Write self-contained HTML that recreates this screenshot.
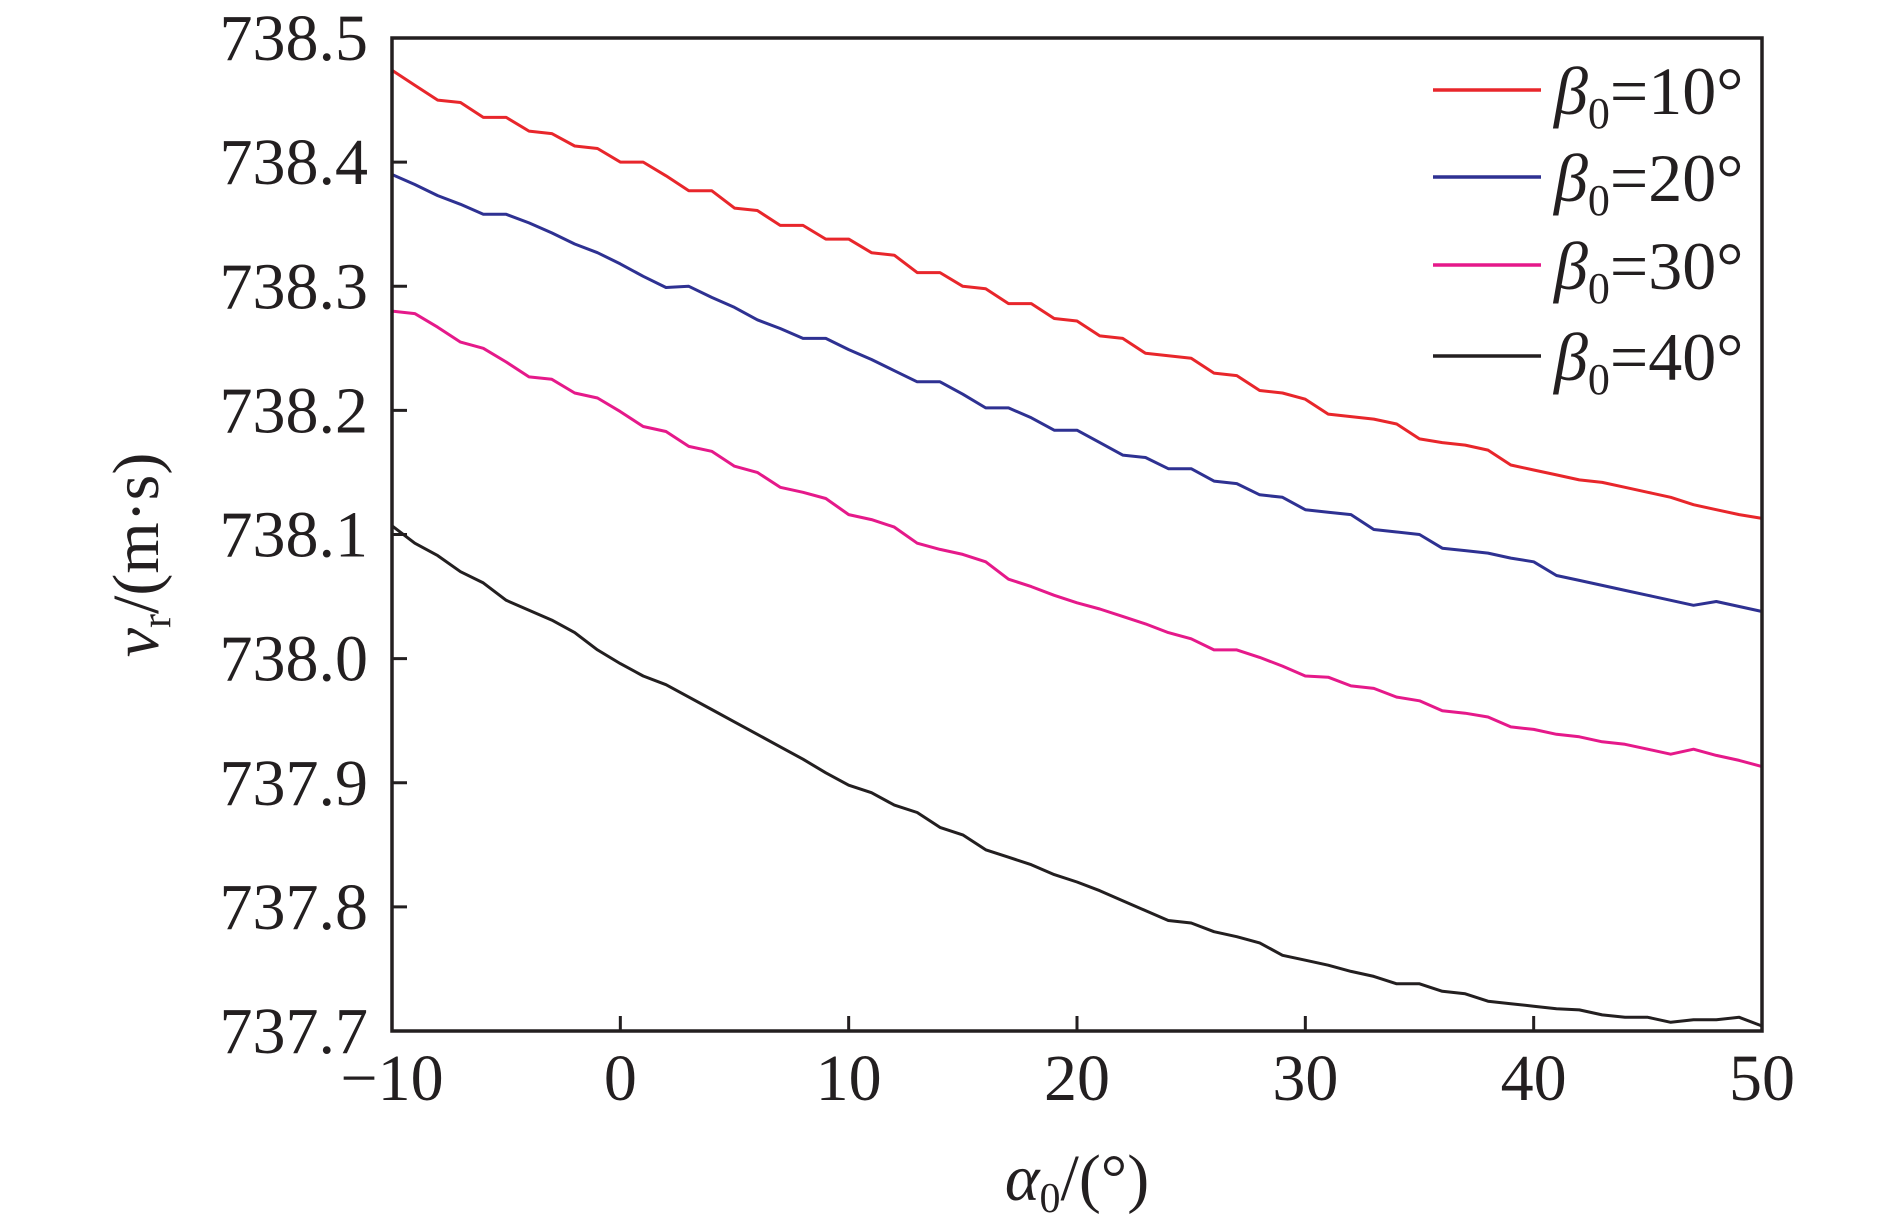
<!DOCTYPE html>
<html><head><meta charset="utf-8"><style>
html,body{margin:0;padding:0;background:#fff;}
svg{display:block;font-family:"Liberation Serif",serif;}
</style></head><body>
<svg id="chart" width="1890" height="1226" viewBox="0 0 1890 1226" xmlns="http://www.w3.org/2000/svg"></svg>
<script>
const xCats = [];
for (let i = -10; i <= 50; i++) xCats.push(i);
const xTicks = [-10, 0, 10, 20, 30, 40, 50];
const xTickLabels = ["\u221210", "0", "10", "20", "30", "40", "50"];
const yTicks = [737.7, 737.8, 737.9, 738.0, 738.1, 738.2, 738.3, 738.4, 738.5];
const yTickLabels = ["737.7", "737.8", "737.9", "738.0", "738.1", "738.2", "738.3", "738.4", "738.5"];
const seriesNames = ["10", "20", "30", "40"];
const b10 = [738.474,738.462,738.450,738.448,738.436,738.436,738.425,738.423,738.413,738.411,738.400,738.400,738.389,738.377,738.377,738.363,738.361,738.349,738.349,738.338,738.338,738.327,738.325,738.311,738.311,738.300,738.298,738.286,738.286,738.274,738.272,738.260,738.258,738.246,738.244,738.242,738.230,738.228,738.216,738.214,738.209,738.197,738.195,738.193,738.189,738.177,738.174,738.172,738.168,738.156,738.152,738.148,738.144,738.142,738.138,738.134,738.130,738.124,738.120,738.116,738.113];
const b20 = [738.390,738.382,738.373,738.366,738.358,738.358,738.351,738.343,738.334,738.327,738.318,738.308,738.299,738.300,738.291,738.283,738.273,738.266,738.258,738.258,738.249,738.241,738.232,738.223,738.223,738.213,738.202,738.202,738.194,738.184,738.184,738.174,738.164,738.162,738.153,738.153,738.143,738.141,738.132,738.130,738.120,738.118,738.116,738.104,738.102,738.100,738.089,738.087,738.085,738.081,738.078,738.067,738.063,738.059,738.055,738.051,738.047,738.043,738.046,738.042,738.038];
const b30 = [738.280,738.278,738.267,738.255,738.250,738.239,738.227,738.225,738.214,738.210,738.199,738.187,738.183,738.171,738.167,738.155,738.150,738.138,738.134,738.129,738.116,738.112,738.106,738.093,738.088,738.084,738.078,738.064,738.058,738.051,738.045,738.040,738.034,738.028,738.021,738.016,738.007,738.007,738.001,737.994,737.986,737.985,737.978,737.976,737.969,737.966,737.958,737.956,737.953,737.945,737.943,737.939,737.937,737.933,737.931,737.927,737.923,737.927,737.922,737.918,737.913];
const b40 = [738.107,738.093,738.083,738.070,738.061,738.047,738.039,738.031,738.021,738.007,737.996,737.986,737.979,737.969,737.959,737.949,737.939,737.929,737.919,737.908,737.898,737.892,737.882,737.876,737.864,737.858,737.846,737.840,737.834,737.826,737.820,737.813,737.805,737.797,737.789,737.787,737.780,737.776,737.771,737.761,737.757,737.753,737.748,737.744,737.738,737.738,737.732,737.730,737.724,737.722,737.720,737.718,737.717,737.713,737.711,737.711,737.707,737.709,737.709,737.711,737.704];
const seriesValues = [b10, b20, b30, b40];
const colors = ["#e8262b", "#2e3192", "#e5198a", "#231f20"];

const L = 392, R = 1762, T = 38, B = 1031;
const xMin = -10, xMax = 50, yMin = 737.7, yMax = 738.5;
const sx = v => L + (v - xMin) / (xMax - xMin) * (R - L);
const sy = v => B - (v - yMin) / (yMax - yMin) * (B - T);
const NS = "http://www.w3.org/2000/svg";
const svg = document.getElementById('chart');
function mk(tag, attrs, parent) {
  const e = document.createElementNS(NS, tag);
  for (const k in attrs) e.setAttribute(k, attrs[k]);
  (parent || svg).appendChild(e);
  return e;
}
const gS = mk('g', {});


seriesValues.forEach((vals, si) => {
  const pts = vals.map((v, i) => sx(xCats[i]).toFixed(1) + ',' + sy(v).toFixed(1)).join(' ');
  const pl = mk('polyline', {points: pts, fill: 'none', stroke: colors[si], 'stroke-width': 3, 'stroke-linejoin': 'round'}, gS);
  
  
});
const frame = mk('rect', {x: L, y: T, width: R - L, height: B - T, fill: 'none', stroke: '#231f20', 'stroke-width': 3.5});


xTicks.forEach((t, i) => {
  const x = sx(t);
  const tk = mk('line', {x1: x, x2: x, y1: B, y2: B - 15, stroke: '#231f20', 'stroke-width': 3});
  
  
  const tx = mk('text', {x: x, y: 1100, 'font-size': 66, 'text-anchor': 'middle', fill: '#231f20'});
  tx.textContent = xTickLabels[i];
  
  
});
yTicks.forEach((t, i) => {
  const y = sy(t);
  const tk = mk('line', {x1: L, x2: L + 15, y1: y, y2: y, stroke: '#231f20', 'stroke-width': 3});
  
  
  const tx = mk('text', {x: 368, y: y + 22, 'font-size': 66, 'text-anchor': 'end', fill: '#231f20'});
  tx.textContent = yTickLabels[i];
  
  
});
const legY = [90, 177, 265, 356];
const gL = mk('g', {});


seriesNames.forEach((n, i) => {
  const ln = mk('line', {x1: 1433, x2: 1541, y1: legY[i], y2: legY[i], stroke: colors[i], 'stroke-width': 3.5}, gL);
  
  
  const tx = mk('text', {x: 1554, y: legY[i] + 24, 'font-size': 68, fill: '#231f20'}, gL);
  tx.innerHTML = '<tspan font-style="italic">\u03b2</tspan><tspan font-size="44" dy="14">0</tspan><tspan dy="-14">=' + n + '\u00b0</tspan>';
  
  
});
const yt = mk('text', {x: 0, y: 0, 'font-size': 66, 'text-anchor': 'middle', fill: '#231f20', transform: 'translate(158,555) rotate(-90)'});
yt.innerHTML = '<tspan font-style="italic">v</tspan><tspan font-size="42" dy="12">r</tspan><tspan dy="-12">/(m\u00b7s)</tspan>';


const xt = mk('text', {x: 1077, y: 1200, 'font-size': 66, 'text-anchor': 'middle', fill: '#231f20'});
xt.innerHTML = '<tspan font-style="italic">\u03b1</tspan><tspan font-size="42" dy="12">0</tspan><tspan dy="-12">/(\u00b0)</tspan>';


</script>
</body></html>
